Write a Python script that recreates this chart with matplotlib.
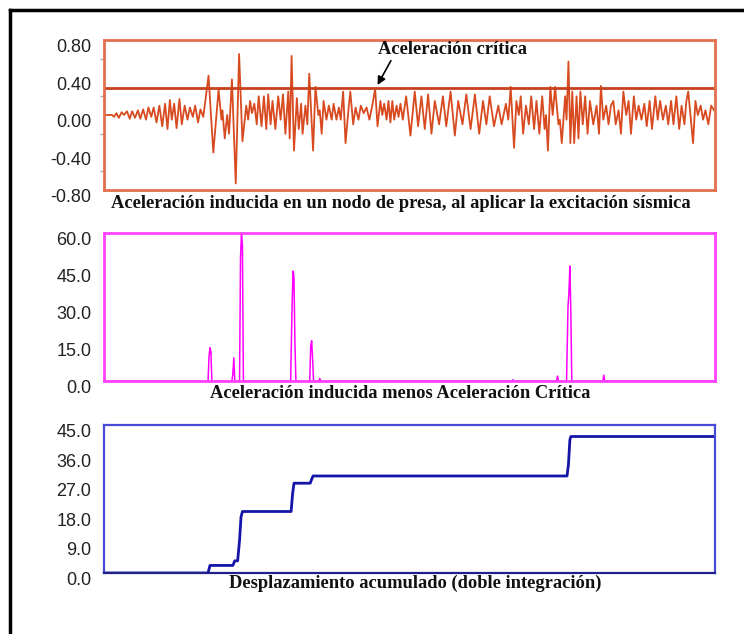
import numpy as np
import matplotlib
matplotlib.use("Agg")
import matplotlib.pyplot as plt
from matplotlib.lines import Line2D
from matplotlib.transforms import ScaledTranslation

# ---------------- data (time in sample steps) ----------------
acc_t = [0, 17, 21, 26, 31, 37, 42, 48, 54, 59, 65, 71, 76, 82, 88, 93, 99, 104, 110, 116,
         122, 128, 133, 138, 142, 147, 152, 158, 163, 169, 175, 180, 186, 191, 197, 202, 208,
         219, 229, 240, 246, 248, 253, 258, 262, 268, 276, 283, 290, 298, 302, 306, 310, 315,
         320, 324, 330, 335, 340, 344, 349, 353, 359, 365, 370, 375, 380, 386, 389, 393, 398,
         404, 408, 413, 416, 422, 426, 430, 438, 443, 449, 452, 456, 460, 466, 471, 477, 481,
         487, 492, 496, 501, 506, 512, 516, 522, 527, 533, 538, 544, 550, 556, 562, 568, 573,
         579, 583, 587, 592, 596, 600, 604, 608, 613, 617, 621, 626, 633, 642, 651, 658, 665,
         672, 679, 686, 693, 702, 710, 717, 726, 735, 742, 751, 759, 768, 777, 786, 794, 801,
         808, 817, 826, 833, 842, 847, 852, 859, 864, 869, 873, 878, 884, 890, 895, 901, 906,
         912, 918, 923, 926, 930, 935, 940, 945, 952, 955, 959, 966, 969, 973, 977, 981, 985,
         990, 994, 998, 1003, 1008, 1013, 1018, 1025, 1032, 1037, 1041, 1046, 1052, 1057, 1062,
         1067, 1072, 1078, 1083, 1088, 1094, 1099, 1104, 1110, 1115, 1120, 1126, 1132, 1137,
         1143, 1148, 1155, 1160, 1165, 1171, 1177, 1182, 1188, 1193, 1199, 1205, 1210, 1216,
         1220, 1224, 1230, 1234, 1239, 1244, 1250, 1255, 1260, 1266, 1272, 1278]
acc_v = [0.0, 0.0, -0.02, 0.02, -0.03, 0.03, 0.0, 0.04, -0.04, 0.04, -0.03, 0.05, -0.04, 0.06,
         -0.05, 0.08, -0.02, 0.08, -0.08, 0.10, -0.12, 0.12, -0.15, 0.16, -0.05, 0.12, -0.14,
         0.17, -0.10, 0.10, -0.05, 0.08, -0.02, 0.10, -0.08, 0.06, -0.02, 0.42, -0.40, 0.27,
         -0.05, 0.05, -0.25, 0.00, -0.20, 0.38, -0.73, 0.65, -0.28, 0.10, -0.05, 0.15, 0.02,
         0.12, -0.10, 0.20, -0.12, 0.20, -0.15, 0.22, -0.10, 0.15, -0.15, 0.20, -0.05, 0.22,
         -0.20, 0.25, -0.25, 0.63, -0.38, 0.18, -0.15, 0.12, -0.20, 0.10, -0.10, 0.44, -0.38,
         0.30, 0.00, 0.05, -0.20, 0.15, -0.05, 0.10, -0.05, 0.12, -0.05, 0.08, -0.05, 0.25,
         -0.30, 0.05, 0.25, -0.10, 0.08, -0.05, 0.10, 0.02, 0.08, -0.05, 0.10, 0.28, -0.12,
         0.15, 0.00, 0.12, -0.05, 0.15, -0.08, 0.15, -0.05, 0.10, -0.02, 0.12, -0.05, 0.20,
         -0.22, 0.25, -0.12, 0.20, -0.15, 0.22, -0.20, 0.15, -0.10, 0.20, -0.12, 0.25, -0.22,
         0.15, -0.10, 0.22, -0.15, 0.22, -0.20, 0.15, -0.10, 0.20, -0.12, 0.10, -0.10, 0.12,
         -0.05, 0.30, -0.35, 0.15, 0.00, 0.20, -0.20, 0.10, -0.10, 0.20, -0.15, 0.15, -0.20,
         0.20, -0.15, 0.00, -0.38, 0.30, 0.00, 0.30, -0.10, -0.05, -0.30, 0.20, -0.05, 0.57,
         -0.30, 0.25, -0.30, 0.20, -0.25, 0.25, -0.10, 0.20, -0.20, 0.15, -0.10, 0.10, -0.20,
         0.31, -0.05, 0.10, -0.10, 0.10, 0.15, -0.10, 0.05, -0.20, 0.25, 0.00, 0.15, -0.20,
         0.20, -0.05, 0.10, -0.05, 0.12, -0.12, 0.15, -0.15, 0.20, -0.05, 0.15, -0.05, 0.10,
         -0.10, 0.15, -0.10, 0.20, -0.15, 0.10, -0.10, 0.15, 0.25, -0.08, -0.30, 0.15, 0.00,
         0.10, -0.05, 0.05, -0.10, 0.10, 0.05]
acc_critica = 0.285

exc_t = [0, 218, 220, 222, 224, 226, 268, 270, 272, 274, 284, 286, 288, 290, 292, 391, 394, 396,
         398, 400, 402, 431, 433, 435, 437, 439, 450, 452, 454, 855, 857, 859, 948, 950, 952, 969,
         972, 974, 976, 978, 980, 1045, 1047, 1049, 1280]
exc_v = [0, 0, 10, 13.5, 12, 0, 0, 3, 9.4, 0, 0, 50, 60, 55, 0, 0, 30, 44.6, 42, 15, 0, 0, 14,
         16.3, 9, 0, 0, 1, 0, 0, 0.5, 0, 0, 2, 0, 0, 30, 36, 46.6, 28, 0, 0, 2.4, 0, 0]

dsp_t = [0, 218, 222, 270, 274, 280, 284, 287, 290, 392, 395, 398, 432, 435, 438, 970, 973, 976,
         978, 1280]
dsp_v = [0, 0, 2.3, 2.3, 3.7, 3.7, 10, 17, 18.7, 18.7, 24, 27.3, 27.3, 28.5, 29.5, 29.5, 33,
         40.5, 41.5, 41.5]

yt1 = [-0.80, -0.40, 0.00, 0.40, 0.80]
yt2 = [0.0, 15.0, 30.0, 45.0, 60.0]
yt3 = [0.0, 9.0, 18.0, 27.0, 36.0, 45.0]

cap1 = "Aceleración inducida en un nodo de presa, al aplicar la excitación sísmica"
cap2 = "Aceleración inducida menos Aceleración Crítica"
cap3 = "Desplazamiento acumulado (doble integración)"
lbl_crit = "Aceleración crítica"

# ---------------- figure ----------------
W, H = 744, 634
fig = plt.figure(figsize=(W / 100, H / 100), dpi=100)
fig.patch.set_facecolor("white")

def rect(top, bottom, left=104, right=715):
    return [left / W, 1 - bottom / H, (right - left) / W, (bottom - top) / H]

ax1 = fig.add_axes(rect(40, 190))
ax2 = fig.add_axes(rect(233, 381))
ax3 = fig.add_axes(rect(425, 573))

tick_font = dict(family="Liberation Sans", size=13, color="#222222")
cap_font = dict(family="Liberation Serif", weight="bold", size=13.3, color="#111111")

def style(ax, color, lw, yticks, fmt, ylim):
    ax.set_xlim(0, 1280)
    ax.set_ylim(*ylim)
    ax.set_xticks([])
    ax.set_yticks(yticks)
    ax.set_yticklabels([fmt.format(v) for v in yticks], **tick_font)
    ax.tick_params(axis="y", length=0, pad=9)
    for s in ax.spines.values():
        s.set_color(color)
        s.set_linewidth(lw)
    off = ScaledTranslation(0, -4.0 / 72, fig.dpi_scale_trans)
    for lab in ax.get_yticklabels():
        lab.set_transform(lab.get_transform() + off)

# panel 1
ax1.plot(acc_t, acc_v, color="#d84a20", lw=1.3)
ax1.axhline(acc_critica, color="#c8401c", lw=2.0)
style(ax1, "#e2704e", 2.0, yt1, "{:.2f}", (-0.8, 0.8))
ax1.set_yticks([-0.6, -0.2, 0.2, 0.6], minor=True)
ax1.tick_params(axis="y", which="minor", length=3, color="#aaaaaa", width=1)
ax1.annotate(lbl_crit, xy=(573, 0.32), xytext=(573, 0.70), fontsize=13.3,
             family="Liberation Serif", weight="bold", color="#111111", va="center", ha="left",
             arrowprops=dict(arrowstyle="-|>", color="black", lw=1.2, mutation_scale=12,
                             shrinkA=0, shrinkB=0, relpos=(0.1, 0.0)))

# panel 2
ax2.plot(exc_t, exc_v, color="#ff00ff", lw=1.1, clip_on=False)
style(ax2, "#ff44ff", 2.0, yt2, "{:.1f}", (0, 60))

# panel 3
ax3.plot(dsp_t, dsp_v, color="#1414a8", lw=2.0)
style(ax3, "#4a4ad8", 1.6, yt3, "{:.1f}", (0, 45))
ax3.spines["bottom"].set_color("#20208a")

# captions
fig.text(401 / W, 1 - 203 / H, cap1, ha="center", va="center", **cap_font)
fig.text(400 / W, 1 - 393 / H, cap2, ha="center", va="center", **cap_font)
fig.text(415 / W, 1 - 583 / H, cap3, ha="center", va="center", **cap_font)

# outer frame (left and top only visible)
fig.add_artist(Line2D([10 / W, 10 / W], [0, 1 - 10 / H], color="black", lw=2.5,
                      transform=fig.transFigure))
fig.add_artist(Line2D([10 / W, 1], [1 - 10 / H, 1 - 10 / H], color="black", lw=2.5,
                      transform=fig.transFigure))

fig.savefig("out.png", dpi=100)
